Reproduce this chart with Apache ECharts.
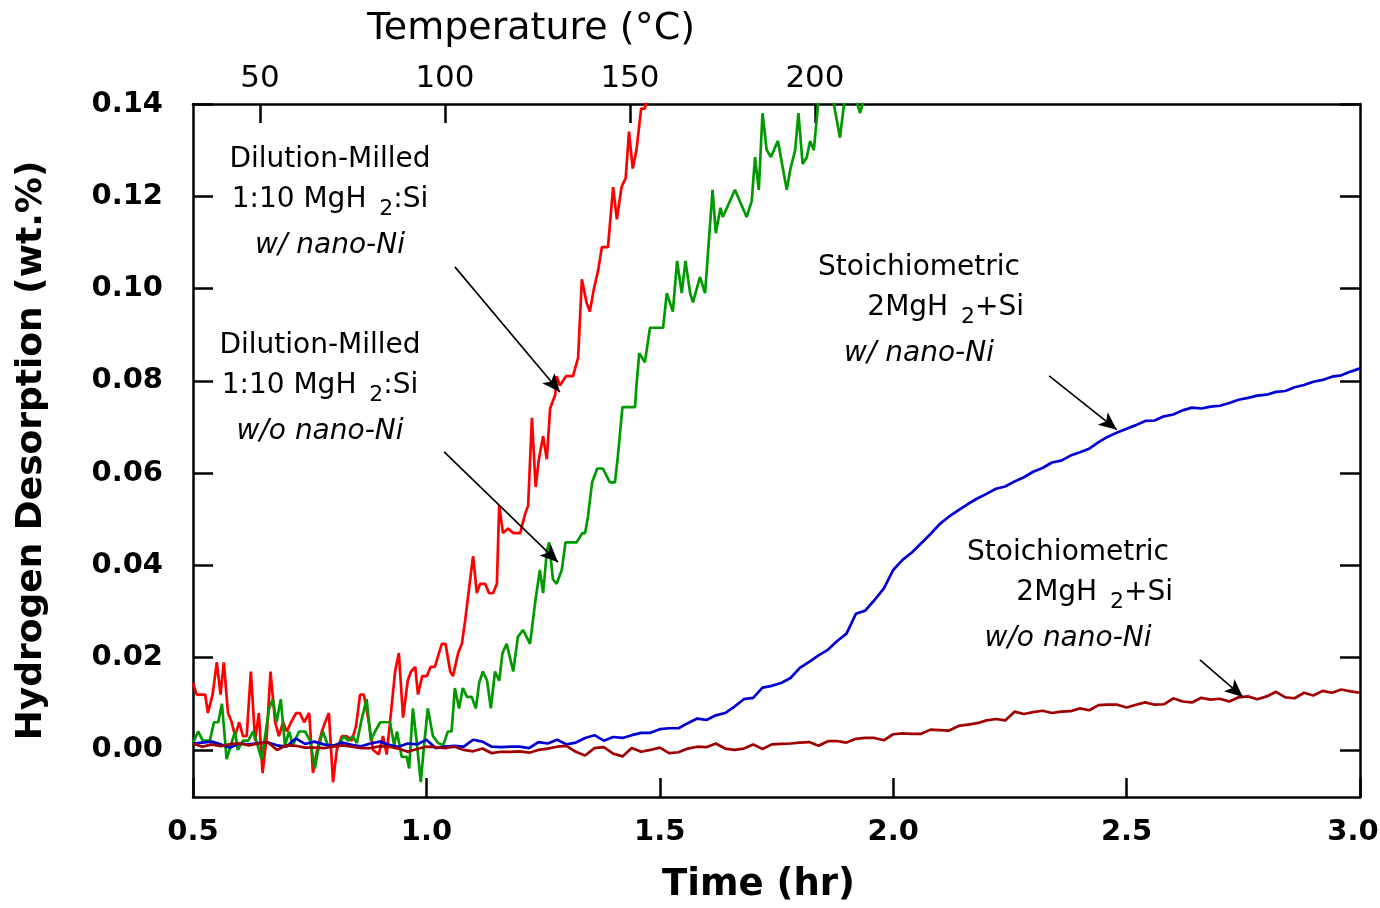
<!DOCTYPE html>
<html>
<head>
<meta charset="utf-8">
<script src="https://cdn.jsdelivr.net/npm/echarts@6/dist/echarts.min.js"></script>
<style>
  html, body { margin: 0; padding: 0; background: #fff; }
  #main { width: 1380px; height: 908px; }
</style>
</head>
<body>
<div id="main"></div>
<script>
// tick values
var yTicks = [0, 0.02, 0.04, 0.06, 0.08, 0.10, 0.12, 0.14];
var tempTicks = [50, 100, 150, 200];

// dilution-milled 1:10 MgH2:Si with nano-Ni  [time hr, wt.%]
var redPoints = [
  [0.500,0.0145],[0.508,0.012],[0.526,0.012],[0.532,0.008],[0.542,0.012],[0.551,0.019],[0.559,0.012],[0.566,0.019],
  [0.575,0.008],[0.583,0.006],[0.590,0.003],[0.599,0.006],[0.607,0.003],[0.615,0.003],[0.624,0.017],[0.633,0.002],
  [0.641,0.008],[0.649,-0.005],[0.658,0.003],[0.666,0.017],[0.676,0.006],[0.684,0.003],[0.693,0.006],[0.701,0.004],
  [0.710,0.006],[0.721,0.008],[0.729,0.008],[0.738,0.006],[0.749,0.008],[0.757,-0.005],[0.766,0.000],[0.776,0.004],
  [0.783,0.006],[0.791,0.008],[0.800,-0.007],[0.808,0.000],[0.819,0.003],[0.829,0.003],[0.840,0.002],[0.849,0.005],
  [0.858,0.012],[0.866,0.012],[0.875,0.007],[0.886,0.000],[0.898,-0.001],[0.907,0.003],[0.915,-0.001],[0.924,0.008],
  [0.933,0.017],[0.941,0.021],[0.950,0.007],[0.960,0.015],[0.967,0.017],[0.976,0.018],[0.982,0.012],[0.991,0.016],
  [1.001,0.016],[1.009,0.018],[1.018,0.018],[1.033,0.023],[1.041,0.023],[1.051,0.017],[1.057,0.016],[1.068,0.021],
  [1.076,0.023],[1.083,0.028],[1.089,0.033],[1.100,0.042],[1.108,0.034],[1.115,0.036],[1.126,0.036],[1.134,0.034],
  [1.143,0.034],[1.151,0.036],[1.156,0.053],[1.164,0.047],[1.175,0.048],[1.186,0.047],[1.201,0.047],[1.211,0.051],
  [1.218,0.053],[1.226,0.072],[1.234,0.057],[1.241,0.063],[1.250,0.068],[1.258,0.063],[1.265,0.074],[1.276,0.077],
  [1.279,0.081],[1.286,0.079],[1.299,0.081],[1.314,0.081],[1.325,0.085],[1.333,0.102],[1.343,0.097],[1.350,0.095],
  [1.359,0.100],[1.368,0.104],[1.376,0.109],[1.389,0.109],[1.400,0.122],[1.408,0.115],[1.418,0.122],[1.427,0.124],
  [1.434,0.134],[1.442,0.126],[1.450,0.130],[1.460,0.139],[1.468,0.139],[1.475,0.143]
];

// dilution-milled 1:10 MgH2:Si without nano-Ni
var greenPoints = [
  [0.500,0.0015],[0.511,0.004],[0.521,0.002],[0.536,0.002],[0.545,0.006],[0.554,0.006],[0.562,0.010],[0.572,-0.002],
  [0.581,0.001],[0.590,0.004],[0.596,0.000],[0.607,0.002],[0.618,0.002],[0.629,0.004],[0.637,0.0015],[0.647,-0.002],
  [0.656,0.004],[0.663,0.009],[0.671,0.011],[0.679,0.006],[0.688,0.011],[0.697,0.001],[0.706,0.004],[0.714,0.001],
  [0.727,0.004],[0.740,0.004],[0.751,0.002],[0.761,-0.004],[0.770,0.001],[0.778,0.004],[0.789,0.001],[0.800,0.001],
  [0.811,0.001],[0.823,0.003],[0.832,0.002],[0.842,0.003],[0.851,0.0015],[0.861,0.0065],[0.872,0.011],[0.881,0.002],
  [0.890,0.004],[0.901,0.006],[0.911,0.006],[0.922,0.006],[0.931,0.001],[0.937,0.004],[0.947,-0.0015],[0.958,-0.0015],
  [0.963,-0.004],[0.971,0.009],[0.979,0.002],[0.988,-0.007],[0.995,0.001],[1.003,0.009],[1.014,0.003],[1.025,0.0015],
  [1.036,0.001],[1.046,0.004],[1.054,0.004],[1.061,0.0134],[1.070,0.009],[1.078,0.0134],[1.087,0.0115],[1.097,0.0115],
  [1.106,0.009],[1.113,0.0145],[1.121,0.017],[1.130,0.015],[1.138,0.009],[1.147,0.017],[1.156,0.015],[1.163,0.021],
  [1.172,0.023],[1.186,0.017],[1.196,0.0245],[1.207,0.026],[1.222,0.023],[1.233,0.032],[1.243,0.039],[1.250,0.034],
  [1.258,0.043],[1.263,0.045],[1.271,0.037],[1.279,0.036],[1.290,0.039],[1.298,0.045],[1.322,0.045],[1.334,0.047],
  [1.340,0.047],[1.346,0.0505],[1.355,0.058],[1.366,0.061],[1.378,0.061],[1.393,0.058],[1.404,0.058],[1.410,0.0635],
  [1.420,0.0743],[1.447,0.0743],[1.450,0.079],[1.456,0.086],[1.468,0.084],[1.479,0.0915],[1.507,0.0915],[1.515,0.099],
  [1.528,0.095],[1.537,0.106],[1.547,0.099],[1.555,0.106],[1.565,0.099],[1.571,0.097],[1.586,0.1025],[1.597,0.099],
  [1.613,0.1214],[1.620,0.112],[1.630,0.1175],[1.635,0.1155],[1.661,0.1214],[1.686,0.1155],[1.697,0.119],[1.704,0.1285],
  [1.712,0.1214],[1.720,0.138],[1.729,0.130],[1.738,0.1285],[1.753,0.132],[1.772,0.1214],[1.780,0.126],[1.790,0.130],
  [1.797,0.138],[1.806,0.127],[1.815,0.1285],[1.822,0.132],[1.830,0.130],[1.840,0.141],[1.856,0.144],[1.871,0.141],
  [1.886,0.1327],[1.897,0.142],[1.910,0.141],[1.922,0.1405],[1.929,0.138],[1.940,0.142],[1.950,0.146]
];

// stoichiometric 2MgH2+Si runs share one time base
var gridTime = [
  0.50,0.52,0.54,0.56,0.58,0.60,0.62,0.64,0.66,0.68,0.70,0.72,0.74,0.76,0.78,0.80,0.82,0.84,0.86,0.88,0.90,0.92,0.94,0.96,0.98,
  1.00,1.02,1.04,1.06,1.08,1.10,1.12,1.14,1.16,1.18,1.20,1.22,1.24,1.26,1.28,1.30,1.32,1.34,1.36,1.38,1.40,1.42,1.44,1.46,1.48,
  1.50,1.52,1.54,1.56,1.58,1.60,1.62,1.64,1.66,1.68,1.70,1.72,1.74,1.76,1.78,1.80,1.82,1.84,1.86,1.88,1.90,1.92,1.94,1.96,1.98,
  2.00,2.02,2.04,2.06,2.08,2.10,2.12,2.14,2.16,2.18,2.20,2.22,2.24,2.26,2.28,2.30,2.32,2.34,2.36,2.38,2.40,2.42,2.44,2.46,2.48,
  2.50,2.52,2.54,2.56,2.58,2.60,2.62,2.64,2.66,2.68,2.70,2.72,2.74,2.76,2.78,2.80,2.82,2.84,2.86,2.88,2.90,2.92,2.94,2.96,2.98,
  3.00
];

// with nano-Ni
var blueValues = [
  0.0014,0.0016,0.0018,0.0012,0.0005,0.0014,0.0012,0.0015,0.0016,0.0010,0.0007,0.0025,0.0013,0.0018,0.0012,0.0009,0.0016,0.0011,0.0008,0.0014,0.0018,0.0011,0.0007,0.0014,0.0012,
  0.0022,0.0004,0.0007,0.0009,0.0007,0.0022,0.0018,0.0007,0.0006,0.0007,0.0007,0.0004,0.0017,0.0014,0.0022,0.0012,0.0016,0.0026,0.0032,0.0020,0.0028,0.0026,0.0032,0.0037,0.0037,
  0.0045,0.0047,0.0047,0.0058,0.0068,0.0065,0.0075,0.0080,0.0094,0.0110,0.0113,0.0135,0.0139,0.0145,0.0156,0.0178,0.0191,0.0205,0.0217,0.0236,0.0252,0.0295,0.0302,0.0325,0.0350,
  0.0390,0.0412,0.0428,0.0448,0.0468,0.0490,0.0506,0.0520,0.0533,0.0545,0.0555,0.0566,0.0571,0.0582,0.0591,0.0603,0.0611,0.0623,0.0627,0.0638,0.0645,0.0653,0.0667,0.0679,0.0688,
  0.0696,0.0704,0.0713,0.0714,0.0723,0.0727,0.0736,0.0742,0.0740,0.0744,0.0746,0.0752,0.0759,0.0763,0.0768,0.0770,0.0776,0.0778,0.0786,0.0791,0.0798,0.0802,0.0809,0.0812,0.0820,
  0.0827
];

// without nano-Ni
var darkRedValues = [
  0.0014,0.0007,0.0012,0.0008,0.0013,0.0014,0.0010,0.0014,0.0017,0.0000,0.0010,0.0009,0.0005,0.0005,0.0004,0.0007,0.0010,0.0007,0.0004,0.0004,0.0008,0.0007,0.0003,-0.0004,0.0002,
  0.0007,0.0006,0.0004,0.0007,0.0000,-0.0003,0.0003,-0.0007,-0.0004,-0.0004,-0.0003,-0.0006,0.0000,0.0003,0.0007,0.0009,-0.0004,-0.0012,0.0004,0.0006,-0.0008,-0.0014,0.0004,-0.0004,0.0000,
  0.0005,-0.0007,-0.0005,0.0003,0.0007,0.0006,0.0014,0.0003,0.0000,0.0003,0.0012,0.0002,0.0012,0.0013,0.0014,0.0016,0.0017,0.0009,0.0019,0.0019,0.0016,0.0024,0.0026,0.0026,0.0021,
  0.0034,0.0036,0.0035,0.0035,0.0044,0.0043,0.0042,0.0052,0.0055,0.0058,0.0064,0.0067,0.0064,0.0083,0.0078,0.0082,0.0085,0.0080,0.0083,0.0084,0.0090,0.0086,0.0097,0.0098,0.0098,
  0.0092,0.0098,0.0103,0.0098,0.0099,0.0112,0.0105,0.0103,0.0113,0.0109,0.0111,0.0105,0.0114,0.0116,0.0110,0.0116,0.0126,0.0114,0.0112,0.0124,0.0118,0.0128,0.0124,0.0131,0.0127,
  0.0124
];

// arrow start / end in data coordinates
var redArrow = [[1.061, 0.1047], [1.286, 0.0776]];
var greenArrow = [[1.038, 0.0646], [1.282, 0.0407]];
var blueArrow = [[2.334, 0.0811], [2.479, 0.0694]];
var darkRedArrow = [[2.657, 0.0195], [2.749, 0.0115]];

// annotation text: plain first line, formula with subscript, italic last line
var notes = [
  { x: 330, y: 160, lines: ['Dilution-Milled', '{a|1:10 MgH }{s|2}{a|:Si}', 'w/ nano-Ni'] },
  { x: 320, y: 346, lines: ['Dilution-Milled', '{a|1:10 MgH }{s|2}{a|:Si}', 'w/o nano-Ni'] },
  { x: 919, y: 268, lines: ['Stoichiometric', '{a|      2MgH }{s|2}{a|+Si}', 'w/ nano-Ni'] },
  { x: 1068, y: 553, lines: ['Stoichiometric', '{a|      2MgH }{s|2}{a|+Si}', 'w/o nano-Ni'] }
];
var noteGaps = [0, 40, 86];

var FONT = 'DejaVu Sans';

function zip(t, v) {
  var out = [];
  for (var i = 0; i < t.length; i++) out.push([t[i], v[i]]);
  return out;
}

function arrowLine(a) {
  return {
    silent: true,
    animation: false,
    symbol: ['none', 'arrow'],
    symbolSize: [12, 18],
    label: { show: false },
    emphasis: { disabled: true },
    lineStyle: { color: '#000', width: 1.6, type: 'solid' },
    itemStyle: { color: '#000' },
    data: [[{ coord: a[0] }, { coord: a[1] }]]
  };
}

function lineSeries(name, data, color, arrow) {
  return {
    name: name,
    type: 'line',
    data: data,
    showSymbol: false,
    symbol: 'none',
    clip: true,
    lineStyle: { color: color, width: 2.7 },
    itemStyle: { color: color },
    emphasis: { disabled: true },
    markLine: arrowLine(arrow)
  };
}

var frame = { show: true, onZero: false, lineStyle: { color: '#000', width: 2.5 } };
var tickStyle = { color: '#000', width: 2.5 };
var boldTick = { fontFamily: FONT, fontWeight: 'bold', fontSize: 29, color: '#000' };

var graphics = [{
  type: 'text', x: 531, y: 29,
  style: { text: 'Temperature (\u00B0C)', font: '38px "' + FONT + '"', fill: '#000', align: 'center', verticalAlign: 'middle' }
}];
notes.forEach(function(n) {
  n.lines.forEach(function(txt, i) {
    var st = {
      text: txt,
      font: (i === 2 ? 'italic ' : '') + '28px "' + FONT + '"',
      fill: '#000', align: 'center', verticalAlign: 'middle'
    };
    if (i === 1) {
      st.rich = {
        a: { fontFamily: FONT, fontSize: 28, lineHeight: 44, color: '#000' },
        s: { fontFamily: FONT, fontSize: 22, lineHeight: 22, padding: [18, 0, 0, 4], color: '#000' }
      };
    }
    graphics.push({ type: 'text', x: n.x, y: n.y + noteGaps[i], style: st });
  });
});

var myChart = echarts.init(document.getElementById('main'));

var option = {
  animation: false,
  backgroundColor: '#fff',
  grid: { left: 193, right: 20, top: 104, bottom: 111, containLabel: false, outerBoundsMode: 'none' },
  xAxis: [{
    type: 'value', position: 'bottom', min: 0.5, max: 3.0, interval: 0.5,
    axisLine: frame,
    axisTick: { inside: true, length: 19, lineStyle: tickStyle },
    axisLabel: {
      // last label is nudged left so it stays on the canvas
      formatter: function(v) { return v === 3 ? '{e|3.0}' : v.toFixed(1); },
      rich: { e: { fontFamily: FONT, fontWeight: 'bold', fontSize: 29, color: '#000', padding: [0, 14, 0, 0] } },
      fontFamily: FONT, fontWeight: 'bold', fontSize: 29, color: '#000', margin: 21
    },
    splitLine: { show: false },
    name: 'Time (hr)', nameLocation: 'middle', nameGap: 70,
    nameTextStyle: { fontFamily: FONT, fontWeight: 'bold', fontSize: 37, color: '#000', padding: [0, 36, 0, 0] }
  }, {
    type: 'value', position: 'top', min: 31.9, max: 347.3,
    axisLine: frame,
    axisTick: { inside: true, length: 19, lineStyle: tickStyle, customValues: tempTicks },
    axisLabel: { customValues: tempTicks, fontFamily: FONT, fontSize: 31, color: '#000', margin: 10 },
    splitLine: { show: false }
  }],
  yAxis: [{
    type: 'value', position: 'left', min: -0.0102, max: 0.14,
    axisLine: frame,
    axisTick: { inside: true, length: 20, lineStyle: tickStyle, customValues: yTicks },
    axisLabel: {
      customValues: yTicks,
      formatter: function(v) { return v.toFixed(2); },
      fontFamily: FONT, fontWeight: 'bold', fontSize: 29, color: '#000', margin: 30
    },
    splitLine: { show: false },
    name: 'Hydrogen Desorption (wt.%)', nameLocation: 'middle', nameGap: 143,
    nameTextStyle: { fontFamily: FONT, fontWeight: 'bold', fontSize: 36, color: '#000' }
  }, {
    type: 'value', position: 'right', min: -0.0102, max: 0.14,
    axisLine: frame,
    axisTick: { inside: true, length: 20, lineStyle: tickStyle, customValues: yTicks },
    axisLabel: { show: false },
    splitLine: { show: false }
  }],
  series: [
    lineSeries('w/ nano-Ni (dilution)', redPoints, '#ff0000', redArrow),
    lineSeries('w/o nano-Ni (dilution)', greenPoints, '#009a00', greenArrow),
    lineSeries('w/ nano-Ni (stoich.)', zip(gridTime, blueValues), '#0000d4', blueArrow),
    lineSeries('w/o nano-Ni (stoich.)', zip(gridTime, darkRedValues), '#a00000', darkRedArrow)
  ],
  graphic: graphics
};

myChart.setOption(option);
</script>
</body>
</html>
